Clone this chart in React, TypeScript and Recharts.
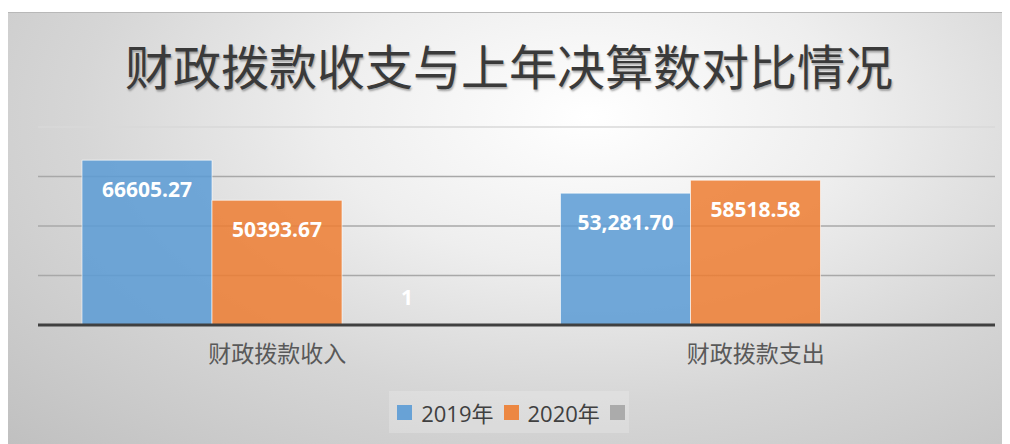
import React from "react";
import {
  BarChart,
  Bar,
  XAxis,
  YAxis,
  CartesianGrid,
  ReferenceLine,
  Legend,
  LabelList,
} from "recharts";

// values
const categories = ["财政拨款收入", "财政拨款支出"];
const values2019 = [66605.27, 53281.7];
const values2020 = [50393.67, 58518.58];
const valuesBlank = [1, null];
const labels2019 = ["66605.27", "53,281.70"];
const labels2020 = ["50393.67", "58518.58"];
const labelsBlank = ["1", ""];
const yTicks = [0, 20000, 40000, 60000, 80000];
const gridValues = [20000, 40000, 60000];

const seriesNames = ["2019年", "2020年", ""];
const seriesColors = ["#5b9bd5", "#ed7d31", "#a5a5a5"];

const data = categories.map((name, i) => ({
  name,
  y2019: values2019[i],
  y2020: values2020[i],
  blank: valuesBlank[i],
  l2019: labels2019[i],
  l2020: labels2020[i],
  lBlank: labelsBlank[i],
}));

const CJK = "'Noto Sans CJK SC', 'Open Sans', sans-serif";
const NUM = "'Open Sans', 'Noto Sans CJK SC', sans-serif";

// white value label, inside the top of the bar (or just above a flat bar)
function ValueLabel(props: any) {
  const { value } = props;
  if (value === "" || value == null) return null;
  const vb = props.viewBox ?? props;
  const x = vb.x ?? props.x;
  const y = vb.y ?? props.y;
  const w = vb.width ?? props.width;
  const h = vb.height ?? props.height;
  const cy = h < 40 ? y - 28 : y + 29;
  return (
    <text
      x={x + w / 2}
      y={cy}
      textAnchor="middle"
      dominantBaseline="central"
      fill="#ffffff"
      fontSize={21}
      fontWeight={700}
      fontFamily={NUM}
    >
      {value}
    </text>
  );
}

function CategoryTick({ x, y, payload }: any) {
  return (
    <text
      x={x}
      y={y}
      dy={19}
      textAnchor="middle"
      dominantBaseline="central"
      fill="#595959"
      fontSize={23}
      fontFamily={CJK}
    >
      {payload.value}
    </text>
  );
}

function LegendBox() {
  return (
    <div
      style={{
        display: "inline-flex",
        alignItems: "center",
        height: 42,
        padding: "0 4px 0 8px",
        background: "rgba(255,255,255,0.2)",
        fontFamily: NUM,
        fontSize: 22,
        color: "#404040",
      }}
    >
      {seriesNames.map((n, i) => (
        <span key={i} style={{ display: "inline-flex", alignItems: "center", marginRight: n ? 10 : 0 }}>
          <span
            style={{
              display: "inline-block",
              width: 15,
              height: 15,
              background: seriesColors[i],
              opacity: 0.9,
              marginRight: n ? 9 : 0,
            }}
          />
          {n}
        </span>
      ))}
    </div>
  );
}

export default function App() {
  return (
    <div style={{ position: "relative", width: 1002, height: 436, background: "#fff" }}>
      <style>{`body{overflow:hidden}`}</style>
      <div
        style={{
          position: "absolute",
          top: 4,
          left: 0,
          right: 0,
          bottom: 0,
          borderTop: "1px solid #b8b8b8",
          background:
            "radial-gradient(ellipse farthest-corner at 58% 24%, #ffffff 0%, #eeeeee 32%, #d6d6d6 62%, #c0c0c0 100%)",
        }}
      />
      <div
        style={{
          position: "absolute",
          top: 28,
          left: 0,
          width: 1002,
          textAlign: "center",
          fontFamily: CJK,
          fontSize: 48,
          lineHeight: "56px",
          fontWeight: 400,
          color: "#3a3a3a",
          textShadow: "1px 2px 2px rgba(0,0,0,0.3)",
        }}
      >
        财政拨款收支与上年决算数对比情况
      </div>
      <div style={{ position: "absolute", top: 4, left: 0 }}>
        <BarChart
          width={1002}
          height={432}
          data={data}
          margin={{ top: 115, right: 15, left: 30, bottom: 11 }}
          barGap={0}
          barSize={130}
        >
          <CartesianGrid
            vertical={false}
            horizontalValues={gridValues}
            stroke="#a8a8a8"
            strokeWidth={1.5}
          />
          <ReferenceLine y={80000} stroke="#d8d8d8" strokeWidth={1.5} />
          <YAxis hide domain={[0, 80000]} ticks={yTicks} />
          <XAxis
            dataKey="name"
            interval={0}
            tickLine={false}
            axisLine={{ stroke: "#404040", strokeWidth: 3 }}
            height={66}
            tick={<CategoryTick />}
          />
          <Legend
            verticalAlign="bottom"
            align="center"
            wrapperStyle={{ left: 0, width: 1002, textAlign: "center" }}
            content={() => <LegendBox />}
          />
          <Bar
            dataKey="y2019"
            name={seriesNames[0]}
            fill={seriesColors[0]}
            fillOpacity={0.85}
            stroke="#ffffff"
            strokeOpacity={0.6}
            isAnimationActive={false}
          >
            <LabelList dataKey="l2019" content={<ValueLabel />} />
          </Bar>
          <Bar
            dataKey="y2020"
            name={seriesNames[1]}
            fill={seriesColors[1]}
            fillOpacity={0.85}
            stroke="#ffffff"
            strokeOpacity={0.6}
            isAnimationActive={false}
          >
            <LabelList dataKey="l2020" content={<ValueLabel />} />
          </Bar>
          <Bar
            dataKey="blank"
            name={seriesNames[2]}
            fill={seriesColors[2]}
            fillOpacity={0.85}
            isAnimationActive={false}
          >
            <LabelList dataKey="lBlank" content={<ValueLabel />} />
          </Bar>
        </BarChart>
      </div>
    </div>
  );
}
